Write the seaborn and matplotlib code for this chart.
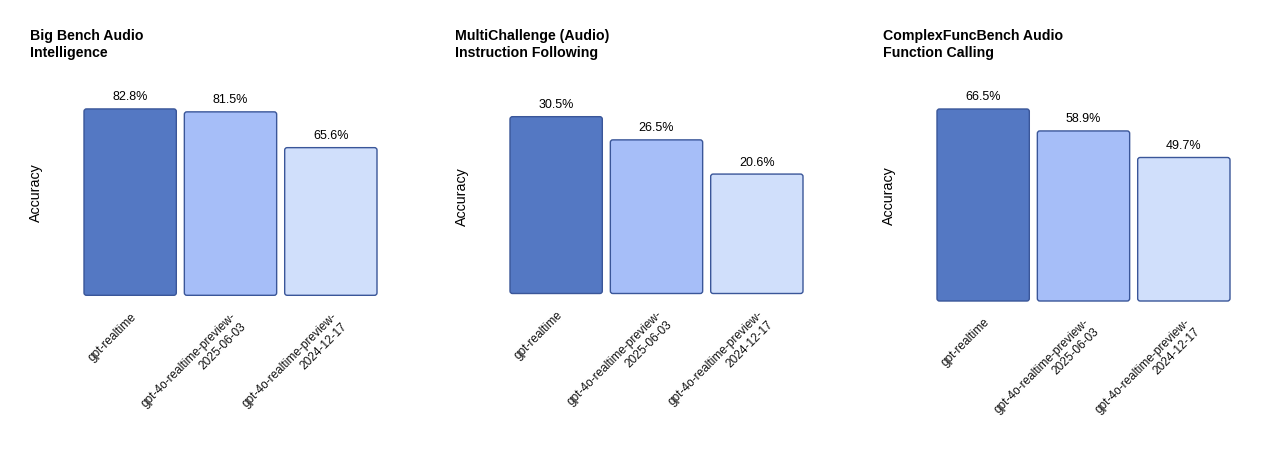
import matplotlib
matplotlib.use("Agg")
import matplotlib.pyplot as plt
from matplotlib.patches import FancyBboxPatch
import seaborn as sns
import pandas as pd

sns.set_theme(style="white")
plt.rcParams['font.family'] = ['Liberation Sans', 'DejaVu Sans']

models = ["gpt-realtime", "gpt-4o-realtime-preview-\n2025-06-03", "gpt-4o-realtime-preview-\n2024-12-17"]
titles = ["Big Bench Audio\nIntelligence", "MultiChallenge (Audio)\nInstruction Following",
          "ComplexFuncBench Audio\nFunction Calling"]
big_bench = [82.8, 81.5, 65.6]
multichallenge = [30.5, 26.5, 20.6]
complexfunc = [66.5, 58.9, 49.7]
series = [big_bench, multichallenge, complexfunc]
colors = ["#5478c3", "#a6bef8", "#d0dffb"]
edge = "#3a5699"

W, H = 1280, 458
fig = plt.figure(figsize=(W / 100, H / 100), dpi=100)

# pixel boxes: left, right, bottom, top
boxes = [(84, 377, 295.3, 90.3), (510, 803, 293.5, 99.0), (937, 1230, 301.0, 89.8)]
title_x = [30, 455, 883]

for i, (vals, title, (l, r, b, t)) in enumerate(zip(series, titles, boxes)):
    ax = fig.add_axes([l / W, 1 - b / H, (r - l) / W, (b - t) / H])
    df = pd.DataFrame({"model": models, "acc": vals})
    sns.barplot(data=df, x="model", y="acc", hue="model", palette=colors, legend=False,
                width=0.92, edgecolor=edge, linewidth=1.0, saturation=1, ax=ax)
    ax.set_xlim(-0.46, 2.46)
    ytop = max(vals) * 1.1
    ax.set_ylim(0, ytop)
    for c in ax.containers:
        ax.bar_label(c, labels=[f"{v:.1f}%" for v in c.datavalues], padding=4,
                     fontsize=9, color="#000000")
    # rounded corners: redraw each seaborn bar as a rounded box of the same geometry
    pxx = (r - l) / 2.92
    pxy = (b - t) / ytop
    rx = 2.5 / pxx
    for p in list(ax.patches):
        x0, y0, w, h = p.get_x(), p.get_y(), p.get_width(), p.get_height()
        fb = FancyBboxPatch((x0, y0), w, h, boxstyle=f"round,pad=0,rounding_size={rx}",
                            mutation_aspect=pxx / pxy, facecolor=p.get_facecolor(),
                            edgecolor=edge, linewidth=1.0, clip_on=False)
        ax.add_patch(fb)
        p.set_visible(False)
    for s in ax.spines.values():
        s.set_visible(False)
    ax.set_yticks([])
    ax.set_xlabel("")
    ax.set_ylabel("Accuracy", fontsize=10.3, color="#000000")
    ax.yaxis.set_label_coords(-41 / (r - l), 0.5)
    ax.tick_params(axis="x", length=0, pad=11, labelsize=8.6, labelcolor="#111111")
    for lab in ax.get_xticklabels():
        lab.set_rotation(45)
        lab.set_ha("right")
        lab.set_va("top")
        lab.set_rotation_mode("anchor")
    fig.text(title_x[i] / W, 1 - 29 / H, title, fontsize=10.2, fontweight="bold",
             ha="left", va="top", linespacing=1.3, color="#000000")

fig.savefig("out.png", dpi=100, facecolor="white")
